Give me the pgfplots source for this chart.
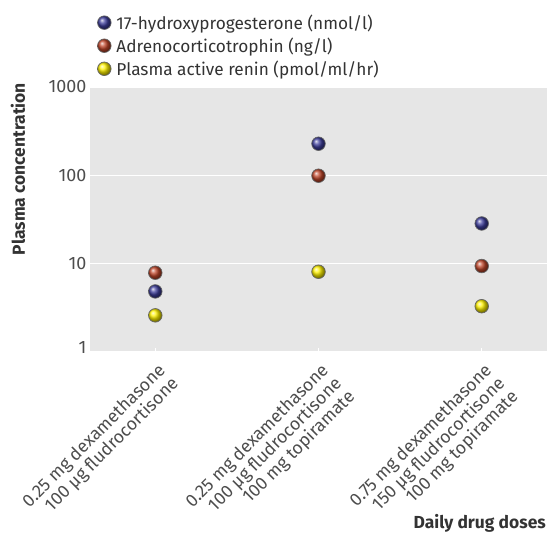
\documentclass[border=0pt]{standalone}
\usepackage{pgfplots}
\pgfplotsset{compat=1.18}
\usepackage{fontspec}
\setmainfont{Fira Sans}
\definecolor{bgg}{HTML}{E6E6E6}
\definecolor{txt}{HTML}{333333}
\definecolor{tick}{HTML}{4D4D4D}
\definecolor{cblue}{HTML}{3E3E9C}
\definecolor{cred}{HTML}{C0462A}
\definecolor{cyel}{HTML}{FFF200}
\pgfdeclareplotmark{oball}{%
  \pgfpathcircle{\pgfpointorigin}{\pgfplotmarksize}%
  \pgfshadepath{ball}{0}%
  \pgfusepath{}%
  \pgfpathcircle{\pgfpointorigin}{\pgfplotmarksize}%
  \pgfusepath{stroke}%
}
\begin{document}
\begin{tikzpicture}
\begin{axis}[
  at={(0,0)}, anchor=south west,
  scale only axis, width=457bp, height=265bp,
  ymode=log, ymin=1, ymax=1000,
  xmin=-0.4, xmax=2.4,
  xtick={0,1,2},
  xticklabels={{0.25 mg dexamethasone\\100 µg fludrocortisone},
               {0.25 mg dexamethasone\\100 µg fludrocortisone\\100 mg topiramate},
               {0.75 mg dexamethasone\\150 µg fludrocortisone\\100 mg topiramate}},
  x tick label style={rotate=45, anchor=north east, align=right, font=\fontsize{17.8}{17.5}\selectfont, text=tick, inner sep=1bp, yshift=-7bp, xshift=-5bp},
  ytick={1,10,100,1000},
  yticklabels={\raisebox{10bp}{1},10,100,1000},
  y tick label style={font=\fontsize{18}{20}\selectfont, text=tick},
  /pgf/number format/assume math mode=true,
  axis background/.style={fill=bgg},
  axis line style={draw=none},
  ymajorgrids, grid style={white, line width=1.3pt},
  xtick pos=bottom, ytick style={draw=none},
  x tick style={white, line width=1pt}, tick align=inside, major tick length=4bp,
  minor y tick num=0, yminorticks=false,
  ylabel={Plasma concentration},
  ylabel style={at={(axis description cs:0,0.69)}, anchor=center, yshift=72bp, font=\fontsize{17.5}{20}\selectfont\bfseries, text=txt},
  xlabel={Daily drug doses},
  xlabel style={at={(axis description cs:1,0)}, anchor=east, yshift=-171bp, xshift=0bp, inner sep=1bp, font=\fontsize{17.5}{20}\selectfont\bfseries, text=txt},
  legend style={at={(axis description cs:0,1)}, anchor=south west, xshift=4bp, yshift=7bp, draw=none, fill=none,
    font=\fontsize{17.3}{20}\selectfont, text=txt, row sep=5bp, nodes={inner sep=1bp}},
  legend cell align=left,
  legend image code/.code={\draw[#1] plot coordinates {(7bp,0bp)};},
  legend columns=1,
  clip=false,
]
\addplot[only marks, mark=oball, mark size=6.8bp, mark options={ball color=cblue, draw=black!60, line width=0.7pt}]
  coordinates {(0,4.85) (1,228) (2,28.5)};
\addlegendentry{\hspace{4bp}17-hydroxyprogesterone (nmol/l)}
\addplot[only marks, mark=oball, mark size=6.8bp, mark options={ball color=cred, draw=black!60, line width=0.7pt}]
  coordinates {(0,7.9) (1,99) (2,9.4)};
\addlegendentry{\hspace{4bp}Adrenocorticotrophin (ng/l)}
\addplot[only marks, mark=oball, mark size=6.8bp, mark options={ball color=cyel, draw=black!60, line width=0.7pt}]
  coordinates {(0,2.6) (1,8.1) (2,3.3)};
\addlegendentry{\hspace{4bp}Plasma active renin (pmol/ml/hr)}
\end{axis}
\pgfresetboundingbox
\path (-90bp,-183bp) rectangle (460bp,352bp);
\end{tikzpicture}
\end{document}
